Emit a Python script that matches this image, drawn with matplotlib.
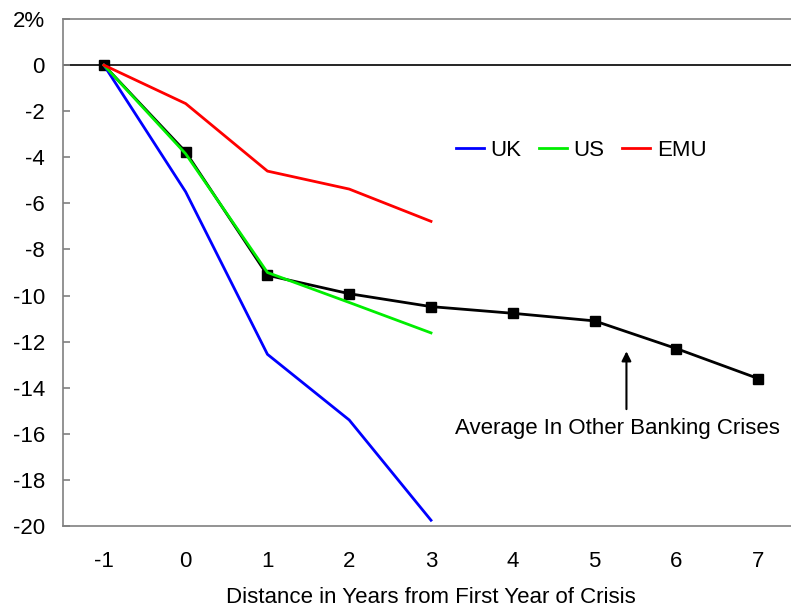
import matplotlib
matplotlib.use("Agg")
import matplotlib.pyplot as plt

years = [-1, 0, 1, 2, 3, 4, 5, 6, 7]
uk = [0, -5.5, -12.55, -15.4, -19.75]
us = [0, -3.85, -9.0, -10.3, -11.62]
emu = [0, -1.67, -4.6, -5.38, -6.78]
avg = [0, -3.77, -9.12, -9.92, -10.48, -10.77, -11.1, -12.3, -13.6]
yticks = [2, 0, -2, -4, -6, -8, -10, -12, -14, -16, -18, -20]
ytick_labels = ["2%", "0", "-2", "-4", "-6", "-8", "-10", "-12", "-14", "-16", "-18", "-20"]

plt.rcParams['font.family'] = ['Liberation Sans', 'DejaVu Sans']
FS = 16
fig = plt.figure(figsize=(7.91, 6.07), dpi=100)
W, H = 791, 607
left, right, top, bottom = 63, 799, 19, 526
ax = fig.add_axes([left / W, 1 - bottom / H, (right - left) / W, (bottom - top) / H])

ax.axhline(0, color='black', lw=1.2, zorder=1)
ax.plot(years[:5], uk, color='#0000ff', lw=2, label='UK', zorder=3)
ax.plot(years[:5], us, color='#00ee00', lw=2, label='US', zorder=3)
ax.plot(years[:5], emu, color='#ff0000', lw=2, label='EMU', zorder=3)
ax.plot(years, avg, color='black', lw=2, marker='s', markersize=7, zorder=2)

ax.set_xlim(-1.5, 7.5)
ax.set_ylim(-20, 2)
ax.set_yticks(yticks)
ax.set_yticklabels(ytick_labels, fontsize=FS)
ax.set_xticks(years)
ax.set_xticklabels([str(y) for y in years], fontsize=FS)
ax.tick_params(axis='x', length=0, pad=18)
ax.tick_params(axis='y', direction='in', length=5, color='#808080', width=1.2, pad=13)

for s in ['left', 'top', 'bottom']:
    ax.spines[s].set_color('#808080')
    ax.spines[s].set_linewidth(1.2)
ax.spines['right'].set_visible(False)

ax.set_xlabel('Distance in Years from First Year of Crisis', fontsize=FS, labelpad=11)

leg = ax.legend(loc='center', ncol=3, frameon=False, fontsize=FS, handlelength=1.25,
                handletextpad=0.3, columnspacing=0.8, borderpad=0, borderaxespad=0)
leg.set_bbox_to_anchor(((581 - left) / (right - left), 1 - (150 - top) / (bottom - top)),
                       transform=ax.transAxes)

ax.annotate('', xy=(5.39, -12.3), xytext=(5.39, -15.05),
            arrowprops=dict(arrowstyle='-|>', color='black', lw=1.5, mutation_scale=14))
ax.text(5.28, -15.75, 'Average In Other Banking Crises', fontsize=FS, ha='center', va='center')

fig.savefig('out.png', dpi=100)
